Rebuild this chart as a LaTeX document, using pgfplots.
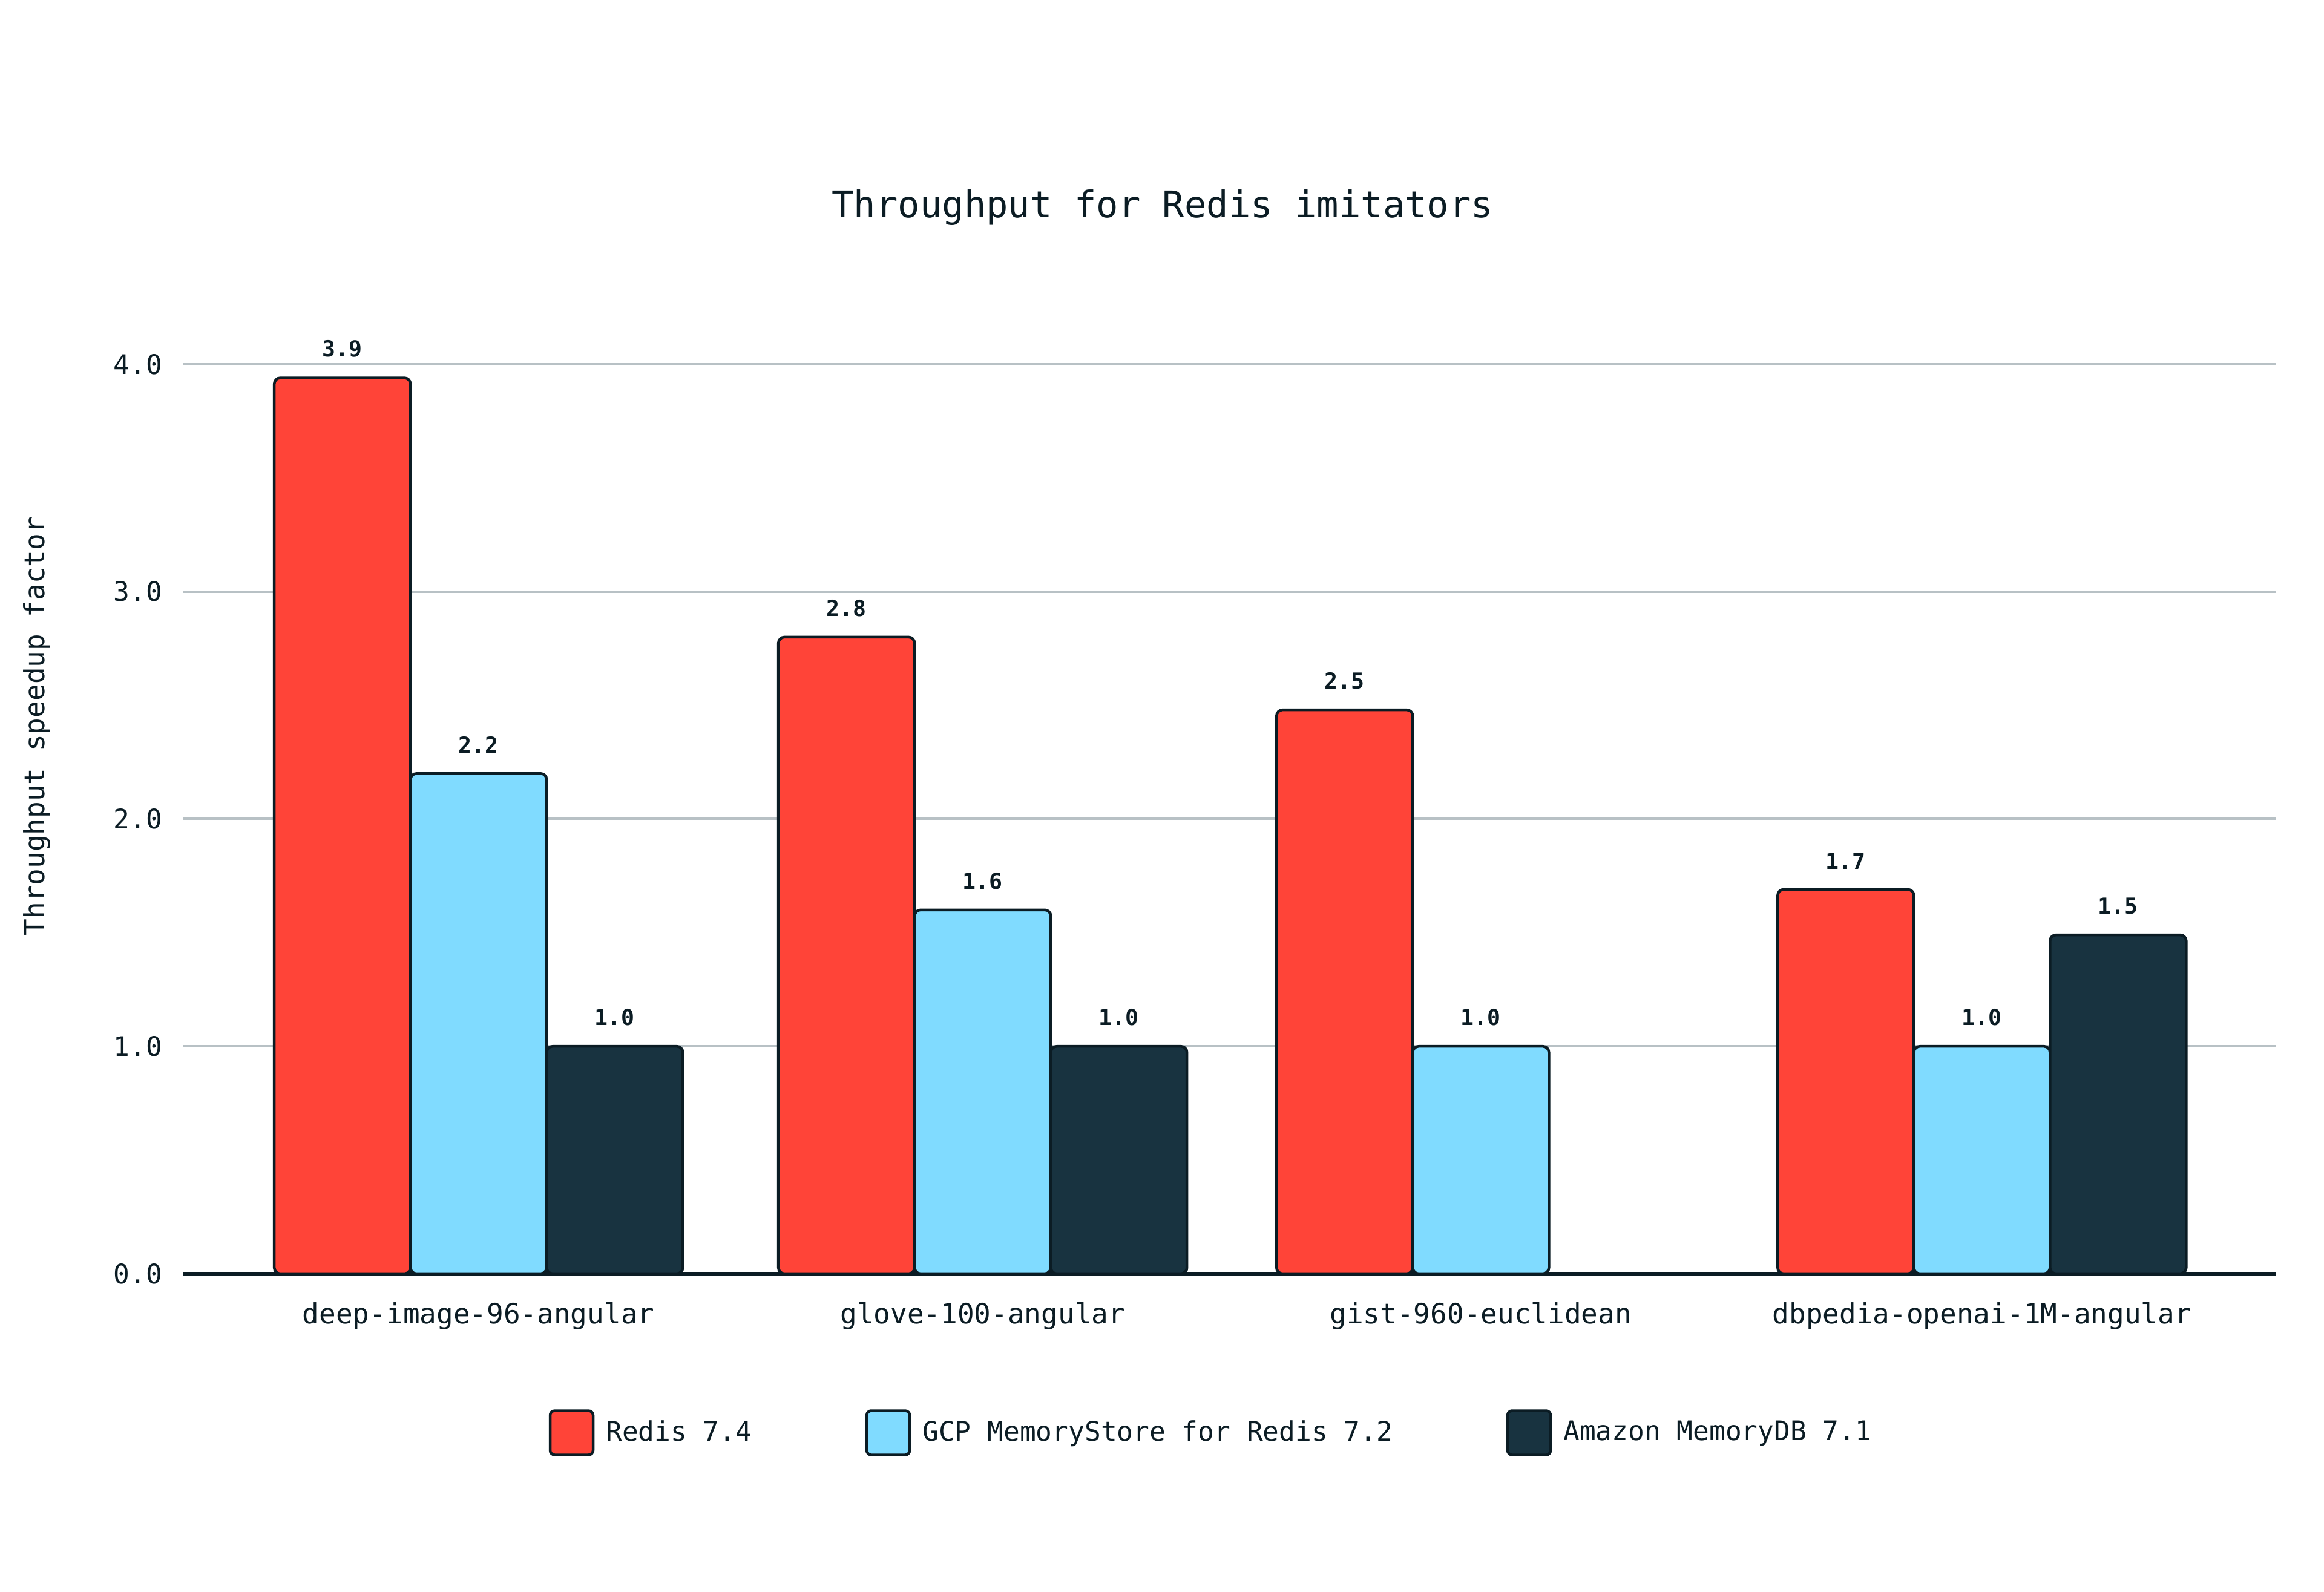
\documentclass[border=0pt]{standalone}
\usepackage{fontspec}
\setmainfont{DejaVu Sans Mono}
\usepackage{pgfplots}
\pgfplotsset{compat=1.18}
\definecolor{rred}{HTML}{FF4438}
\definecolor{rblue}{HTML}{80DBFF}
\definecolor{rdark}{HTML}{183340}
\definecolor{rink}{HTML}{0B1C24}
\definecolor{rgrid}{HTML}{B8C1C5}
\begin{document}
\begin{tikzpicture}
\useasboundingbox (0,0) rectangle (768pt,526.2pt);
\begin{axis}[
  at={(60.6pt,105.2pt)}, anchor=south west,
  scale only axis, width=691.4pt, height=300.6pt,
  xmin=-0.589, xmax=3.586, ymin=0, ymax=4,
  clip=false,
  ybar=0pt, bar width=45pt,
  axis x line*=bottom, axis y line*=left,
  x axis line style={rink, line width=1.1pt},
  y axis line style={draw=none},
  major tick length=0pt,
  ytick={0,1,2,3,4},
  ymajorgrids, grid style={rgrid, line width=0.8pt},
  xtick={0,1.006,2,3},
  xticklabels={deep-image-96-angular, glove-100-angular, gist-960-euclidean, dbpedia-openai-1M-angular},
  xticklabel style={font=\fontsize{9.2}{11}\selectfont, text=rink, yshift=-6pt},
  /pgf/number format/assume math mode=true,
  yticklabel={\pgfmathprintnumber[fixed,fixed zerofill,precision=1]{\tick}},
  yticklabel style={font=\fontsize{8.9}{11}\selectfont, text=rink, xshift=-3.5pt},
  ylabel={Throughput speedup factor},
  ylabel style={at={(axis description cs:-0.070,0.602)}, anchor=center, font=\fontsize{9.2}{11}\selectfont, text=rink},
  title={Throughput for Redis imitators},
  every axis title shift=0pt,
  title style={at={(axis description cs:0.4680,1.1723)}, anchor=center, font=\fontsize{12.1}{14}\selectfont, text=rink},
  nodes near coords,
  nodes near coords style={font=\bfseries\fontsize{7.3}{9}\selectfont, text=rink, yshift=3pt, /pgf/number format/.cd, fixed, fixed zerofill, precision=1},
  legend columns=3,
  legend style={draw=none, fill=none, at={(axis description cs:0.4922,-0.175)}, anchor=center,
    font=\fontsize{8.9}{11}\selectfont, text=rink,
    /tikz/every even column/.append style={column sep=35.5pt}},
  legend image code/.code={\draw[#1, /tikz/.cd, rounded corners=1.5pt] (0pt,-7.3pt) rectangle (14.2pt,7.3pt); \path (16pt,0pt);},
]
\addplot[fill=rred, draw=rink, line width=0.9pt, rounded corners=2pt] coordinates {(0,3.94) (1.006,2.80) (2,2.48) (3,1.69)};
\addplot[fill=rblue, draw=rink, line width=0.9pt, rounded corners=2pt] coordinates {(0,2.20) (1.006,1.60) (2,1.00) (3,1.00)};
\addplot[fill=rdark, draw=rink, line width=0.9pt, rounded corners=2pt] coordinates {(0,1.00) (1.006,1.00) (3,1.49)};
\legend{Redis 7.4, GCP MemoryStore for Redis 7.2, Amazon MemoryDB 7.1}
\end{axis}
\end{tikzpicture}
\end{document}
